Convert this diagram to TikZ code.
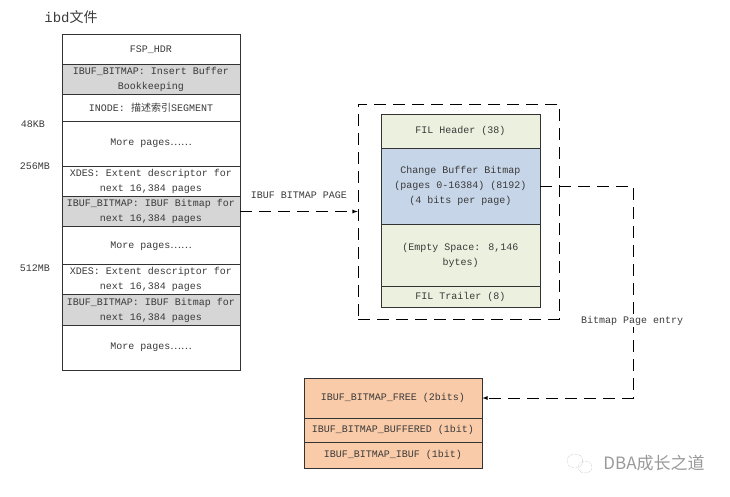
\documentclass[tikz,border=0pt]{standalone}
\usepackage{fontspec}
\setmainfont{Liberation Mono}
\newfontfamily\cjkfont{Noto Sans CJK SC}
\usepackage{xcolor}
\usepackage{tikz}
\usetikzlibrary{arrows.meta}
\usetikzlibrary{positioning}
\definecolor{txtgray}{HTML}{3A3A3A}
\definecolor{edgegray}{HTML}{333333}
\definecolor{fillgray}{HTML}{D6D6D6}
\definecolor{fillgreen}{HTML}{EBF1DE}
\definecolor{fillblue}{HTML}{C6D5E8}
\definecolor{fillorange}{HTML}{FACBA8}
\newcommand{\morepages}{More pages{\cjkfont ……}}
\tikzset{>=latex}
\tikzset{
  pagebox/.style = {rectangle, draw=edgegray, thick, inner sep=0, align=center, text=txtgray, font=\fontsize{10}{15}\selectfont},
  ibdbox/.style = {pagebox, minimum width=178pt},
  bitbox/.style = {pagebox, minimum width=159pt, fill=fillgreen},
  flagbox/.style = {pagebox, minimum width=178pt, fill=fillorange},
  sizelabel/.style = {inner sep=0, text=txtgray, font=\fontsize{10}{12}\selectfont},
  dashline/.style = {draw=black, thick, dash pattern=on 12pt off 7pt}
}

\begin{document}
\begin{tikzpicture}[x=1pt, y=-1pt]
\useasboundingbox (0, 0) rectangle (730, 496);
\node [inner sep=0, text=txtgray, font=\fontsize{14}{16}\selectfont] (title) at (71, 17) {ibd{\cjkfont 文件}};
% ibd file
\node [ibdbox, minimum height=30.5pt] (fsp) at (151, 49.25) {FSP\_HDR};
\node [ibdbox, minimum height=30.5pt, fill=fillgray] (insert) at (151, 79.5) {IBUF\_BITMAP: Insert Buffer\\Bookkeeping};
\node [ibdbox, minimum height=26.5pt] (inode) at (151, 108) {INODE: {\cjkfont 描述索引}SEGMENT};
\node [ibdbox, minimum height=45pt] (morea) at (151, 143.5) {\morepages};
\node [ibdbox, minimum height=30.5pt] (xdesa) at (151, 181.25) {XDES: Extent descriptor for\\next 16,384 pages};
\node [ibdbox, minimum height=30pt, fill=fillgray] (bitmapa) at (151, 211.5) {IBUF\_BITMAP: IBUF Bitmap for\\next 16,384 pages};
\node [ibdbox, minimum height=38pt] (moreb) at (151, 245.75) {\morepages};
\node [ibdbox, minimum height=30pt] (xdesb) at (151, 279.75) {XDES: Extent descriptor for\\next 16,384 pages};
\node [ibdbox, minimum height=30.5pt, fill=fillgray] (bitmapb) at (151, 310) {IBUF\_BITMAP: IBUF Bitmap for\\next 16,384 pages};
\node [ibdbox, minimum height=45pt] (morec) at (151, 347.5) {\morepages};
\node [sizelabel] (kba) at (33, 124) {48KB};
\node [sizelabel] (mba) at (35, 166) {256MB};
\node [sizelabel] (mbb) at (35, 268) {512MB};
% bitmap page
\node [dashline, rectangle, inner sep=0, minimum width=201pt, minimum height=215pt] (page) at (458.5, 211.5) {};
\node [bitbox, minimum height=34pt] (filhdr) at (460.5, 131) {FIL Header (38)};
\node [bitbox, minimum height=76pt, fill=fillblue] (change) at (460.5, 186) {Change Buffer Bitmap\\(pages 0-16384) (8192)\\(4 bits per page)};
\node [bitbox, minimum height=62pt] (empty) at (460.5, 255) {(Empty Space: 8,146\\bytes)};
\node [bitbox, minimum height=21pt] (filtrl) at (460.5, 296.5) {FIL Trailer (8)};
% entry flags
\node [flagbox, minimum height=40pt] (free) at (393, 398) {IBUF\_BITMAP\_FREE (2bits)};
\node [flagbox, minimum height=24pt] (buffered) at (393, 430) {IBUF\_BITMAP\_BUFFERED (1bit)};
\node [flagbox, minimum height=26pt] (ibuf) at (393, 455) {IBUF\_BITMAP\_IBUF (1bit)};
% connectors
\coordinate (bend) at (633, 186);
\draw [->, dashline] (bitmapa.east) to node [above=13pt, inner sep=0, text=txtgray, font=\fontsize{10}{12}\selectfont] (pagelabel) {IBUF BITMAP PAGE} (page.west);
\draw [->, dashline] (change.east) -- (bend) -- (bend |- free.east) -- (free.east);
\node [fill=white, inner sep=1, text=txtgray, font=\fontsize{10}{12}\selectfont] (entrylabel) at (632, 321) {Bitmap Page entry};
% watermark
\node [inner sep=0, text=gray!80, font=\cjkfont\fontsize{17}{20}\selectfont] (mark) at (654, 463) {DBA成长之道};
\draw [gray!80, densely dotted] (575, 461) ellipse (8pt and 7pt);
\draw [gray!80, densely dotted] (585, 467) ellipse (7pt and 6pt);
\end{tikzpicture}
\end{document}
